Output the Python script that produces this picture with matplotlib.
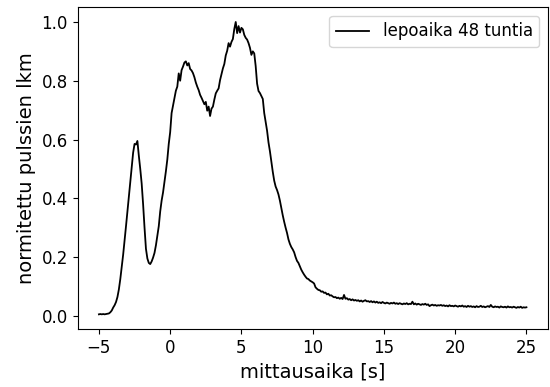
import numpy as np
import matplotlib
matplotlib.use("Agg")
from matplotlib import pyplot as plt

# pulse counts, normalised to the maximum, sampled every 0.1 s from -5 s to 25 s
counts = [
    0.005, 0.006, 0.005, 0.006, 0.005, 0.006, 0.007, 0.008, 0.012, 0.018,
    0.028, 0.036, 0.047, 0.064, 0.090, 0.125, 0.165, 0.208, 0.255, 0.305,
    0.355, 0.405, 0.455, 0.505, 0.555, 0.585, 0.583, 0.595, 0.545, 0.500,
    0.450, 0.380, 0.300, 0.228, 0.195, 0.180, 0.176, 0.185, 0.198, 0.214,
    0.240, 0.272, 0.305, 0.355, 0.392, 0.420, 0.455, 0.492, 0.532, 0.585,
    0.625, 0.690, 0.715, 0.740, 0.766, 0.780, 0.825, 0.800, 0.836, 0.848,
    0.862, 0.866, 0.852, 0.860, 0.840, 0.835, 0.826, 0.812, 0.794, 0.780,
    0.768, 0.752, 0.742, 0.731, 0.720, 0.728, 0.698, 0.712, 0.680, 0.705,
    0.712, 0.736, 0.757, 0.766, 0.774, 0.802, 0.822, 0.842, 0.857, 0.886,
    0.902, 0.928, 0.916, 0.932, 0.942, 0.976, 1.000, 0.962, 0.986, 0.964,
    0.980, 0.975, 0.956, 0.946, 0.940, 0.928, 0.912, 0.888, 0.900, 0.893,
    0.850, 0.790, 0.765, 0.758, 0.748, 0.738, 0.690, 0.660, 0.630, 0.590,
    0.560, 0.525, 0.490, 0.460, 0.440, 0.428, 0.413, 0.392, 0.366, 0.342,
    0.320, 0.300, 0.282, 0.260, 0.245, 0.234, 0.226, 0.216, 0.200, 0.187,
    0.180, 0.168, 0.157, 0.148, 0.140, 0.133, 0.127, 0.125, 0.120, 0.117,
    0.114, 0.110, 0.097, 0.092, 0.088, 0.087, 0.082, 0.083, 0.078, 0.079,
    0.073, 0.075, 0.069, 0.070, 0.066, 0.063, 0.064, 0.060, 0.062, 0.058,
    0.061, 0.057, 0.071, 0.058, 0.060, 0.055, 0.057, 0.053, 0.056, 0.052,
    0.054, 0.051, 0.053, 0.049, 0.052, 0.048, 0.051, 0.053, 0.049, 0.050,
    0.047, 0.050, 0.046, 0.049, 0.045, 0.048, 0.044, 0.046, 0.043, 0.047,
    0.044, 0.042, 0.045, 0.043, 0.041, 0.044, 0.042, 0.045, 0.041, 0.043,
    0.040, 0.043, 0.041, 0.039, 0.042, 0.040, 0.043, 0.039, 0.041, 0.040,
    0.048, 0.039, 0.042, 0.038, 0.041, 0.039, 0.037, 0.040, 0.038, 0.041,
    0.037, 0.039, 0.033, 0.036, 0.038, 0.035, 0.037, 0.034, 0.036, 0.035,
    0.037, 0.034, 0.036, 0.033, 0.035, 0.032, 0.036, 0.033, 0.034, 0.032,
    0.035, 0.033, 0.031, 0.034, 0.032, 0.035, 0.031, 0.033, 0.030, 0.034,
    0.031, 0.033, 0.030, 0.032, 0.029, 0.033, 0.030, 0.031, 0.034, 0.030,
    0.032, 0.029, 0.031, 0.033, 0.030, 0.037, 0.031, 0.029, 0.032, 0.030,
    0.031, 0.028, 0.032, 0.030, 0.029, 0.031, 0.028, 0.032, 0.029, 0.030,
    0.028, 0.031, 0.029, 0.027, 0.030, 0.028, 0.031, 0.027, 0.029, 0.028,
    0.029,
]
t_start, t_end = -5.0, 25.0
times = np.linspace(t_start, t_end, len(counts))

fig, ax = plt.subplots(figsize=(5.5, 3.87), dpi=100)
fig.subplots_adjust(left=0.141, right=0.996, top=0.981, bottom=0.150)

ax.plot(times, counts, color='black', linewidth=1.3, label='lepoaika 48 tuntia')
ax.set_xlabel('mittausaika [s]', fontsize=14)
ax.set_ylabel('normitettu pulssien lkm', fontsize=14)
ax.tick_params(labelsize=12)
ax.legend(loc='upper right', fontsize=12)

fig.savefig('out.png', dpi=100)
